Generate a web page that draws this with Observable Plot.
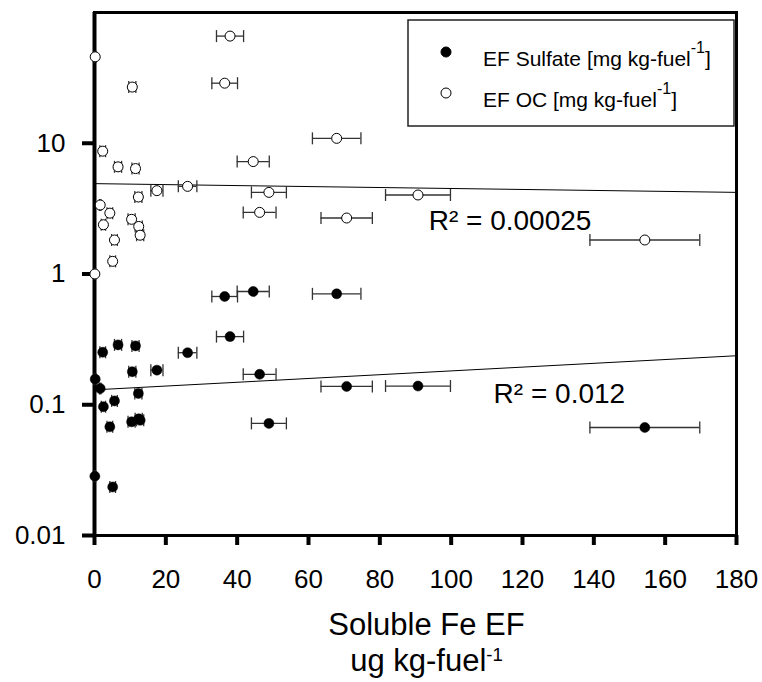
<!DOCTYPE html>
<html>
<head>
<meta charset="utf-8">
<script src="https://cdn.jsdelivr.net/npm/d3@7"></script>
<script src="https://cdn.jsdelivr.net/npm/@observablehq/plot@0.6"></script>
<style>
  html, body { margin: 0; padding: 0; background: white; }
  #chart { position: relative; width: 762px; height: 682px; }
</style>
</head>
<body>
<div id="chart"></div>
<script>
// ---- data ----
const feX = [38.0, 0.2, 10.6, 36.5, 2.3, 6.6, 11.5, 44.5, 17.5, 26.1, 48.9, 46.3, 12.3, 1.6, 4.3, 2.5, 10.4, 12.4, 12.8, 5.6, 5.1, 0.1, 67.9, 90.7, 70.7, 154.3];
const feErr = [3.8, 0.3, 1.0, 3.6, 0.8, 1.0, 1.0, 4.5, 1.7, 2.6, 4.9, 4.6, 1.0, 0.2, 0.8, 0.6, 1.0, 1.0, 1.0, 0.8, 0.8, 0.2, 6.8, 9.1, 7.2, 15.4];
const ocEF = [66, 45.8, 26.9, 28.8, 8.7, 6.6, 6.4, 7.24, 4.34, 4.68, 4.21, 2.96, 3.88, 3.37, 2.92, 2.38, 2.62, 2.31, 1.98, 1.82, 1.25, 1.0, 10.9, 4.02, 2.68, 1.82];
const sulfateEF = [0.332, 0.157, 0.179, 0.673, 0.252, 0.287, 0.282, 0.735, 0.184, 0.250, 0.072, 0.171, 0.122, 0.133, 0.0678, 0.0966, 0.074, 0.078, 0.076, 0.107, 0.0235, 0.0284, 0.705, 0.139, 0.138, 0.067];

const ocFit = [{x: 0, y: 4.91}, {x: 180, y: 4.21}];
const so4Fit = [{x: 0, y: 0.130}, {x: 180, y: 0.237}];

const r2Labels = [
  {x: 93.7, y: 2.52, label: "R² = 0.00025"},
  {x: 111.9, y: 0.12, label: "R² = 0.012"}
];

const xTicks = [0, 20, 40, 60, 80, 100, 120, 140, 160, 180];
const yTicks = [0.01, 0.1, 1, 10];
const yTickLabels = ["0.01", "0.1", "1", "10"];

const xTitle = ["Soluble Fe EF", "ug kg-fuel^-1"];
const legendItems = [
  {label: "EF Sulfate [mg kg-fuel", sup: "-1", tail: "]", fill: "black"},
  {label: "EF OC [mg kg-fuel", sup: "-1", tail: "]", fill: "white"}
];

// ---- table ----
const fe = feX.map((x, i) => ({x, err: feErr[i], oc: ocEF[i], so4: sulfateEF[i]}));

const capSymbol = {
  draw(context, size) {
    const h = Math.sqrt(size / Math.PI);
    context.moveTo(0, -h);
    context.lineTo(0, h);
  }
};

const errColor = "#333";
function errorMarks(yKey) {
  return [
    Plot.ruleY(fe, {y: yKey, x1: d => d.x - d.err, x2: d => d.x + d.err, stroke: errColor, strokeWidth: 1.3}),
    Plot.dot(fe, {x: d => d.x - d.err, y: yKey, symbol: capSymbol, r: 6, stroke: errColor, strokeWidth: 1.3, fill: "none"}),
    Plot.dot(fe, {x: d => d.x + d.err, y: yKey, symbol: capSymbol, r: 6, stroke: errColor, strokeWidth: 1.3, fill: "none"})
  ];
}

const font = "'Liberation Sans', Arial, Helvetica, sans-serif";

const plot = Plot.plot({
  width: 762,
  height: 682,
  marginLeft: 94,
  marginRight: 26,
  marginTop: 12,
  marginBottom: 147,
  style: {fontFamily: font, background: "white", color: "black"},
  x: {domain: [0, 180]},
  y: {type: "log", domain: [0.01, 100]},
  marks: [
    Plot.axisX({ticks: xTicks, tickSize: 10, tickPadding: 24, fontSize: 26, strokeWidth: 4, label: null, tickFormat: d => String(d)}),
    Plot.axisY({ticks: yTicks, tickSize: 12, tickPadding: 17, fontSize: 26, strokeWidth: 4, label: null,
      tickFormat: d => yTickLabels[yTicks.indexOf(d)]}),
    Plot.frame({stroke: "black", strokeWidth: 3}),
    Plot.ruleX([0], {stroke: "black", strokeWidth: 4}),
    Plot.line(ocFit, {x: "x", y: "y", stroke: "black", strokeWidth: 1}),
    Plot.line(so4Fit, {x: "x", y: "y", stroke: "black", strokeWidth: 1}),
    ...errorMarks("so4"),
    ...errorMarks("oc"),
    Plot.dot(fe, {x: "x", y: "so4", r: 5, fill: "black", stroke: "black", strokeWidth: 0.5}),
    Plot.dot(fe, {x: "x", y: "oc", r: 5, fill: "white", stroke: "black", strokeWidth: 1}),
    Plot.text(r2Labels, {x: "x", y: "y", text: "label", textAnchor: "start", lineAnchor: "middle", fontSize: 28, fill: "black"}),
    Plot.text([xTitle[0]], {text: d => d, frameAnchor: "bottom", dx: 11, dy: 90, lineAnchor: "middle", fontSize: 31, fill: "black"}),
    Plot.text([xTitle[1]], {text: d => d, frameAnchor: "bottom", dx: 11, dy: 126, lineAnchor: "middle", fontSize: 31, fill: "black"})
  ]
});

// superscripts
d3.select(plot).selectAll("text").each(function() {
  const t = this.textContent;
  if (t.includes("^")) {
    const [base, sup] = t.split("^");
    const s = d3.select(this);
    s.text(null);
    s.append("tspan").text(base);
    s.append("tspan").attr("dy", "-0.55em").attr("font-size", "0.6em").text(sup);
  }
});

// legend (layout in pixels, inside the plot frame, top-right)
const lg = d3.select(plot).append("g").attr("font-family", font).attr("text-anchor", "start");
lg.append("rect").attr("x", 408).attr("y", 20).attr("width", 326).attr("height", 106)
  .attr("fill", "white").attr("stroke", "#222").attr("stroke-width", 1.5);
legendItems.forEach((it, i) => {
  const cy = 52 + i * 41;
  lg.append("circle").attr("cx", 446).attr("cy", cy).attr("r", 5)
    .attr("fill", it.fill).attr("stroke", "black").attr("stroke-width", 1);
  const tx = lg.append("text").attr("x", 483).attr("y", 66 + i * 40.5)
    .attr("font-size", 21).attr("fill", "black").attr("text-anchor", "start");
  tx.append("tspan").text(it.label);
  tx.append("tspan").attr("dy", -13).attr("font-size", 16).text(it.sup);
  tx.append("tspan").attr("dy", 13).text(it.tail);
});

document.getElementById("chart").appendChild(plot);
</script>
</body>
</html>
